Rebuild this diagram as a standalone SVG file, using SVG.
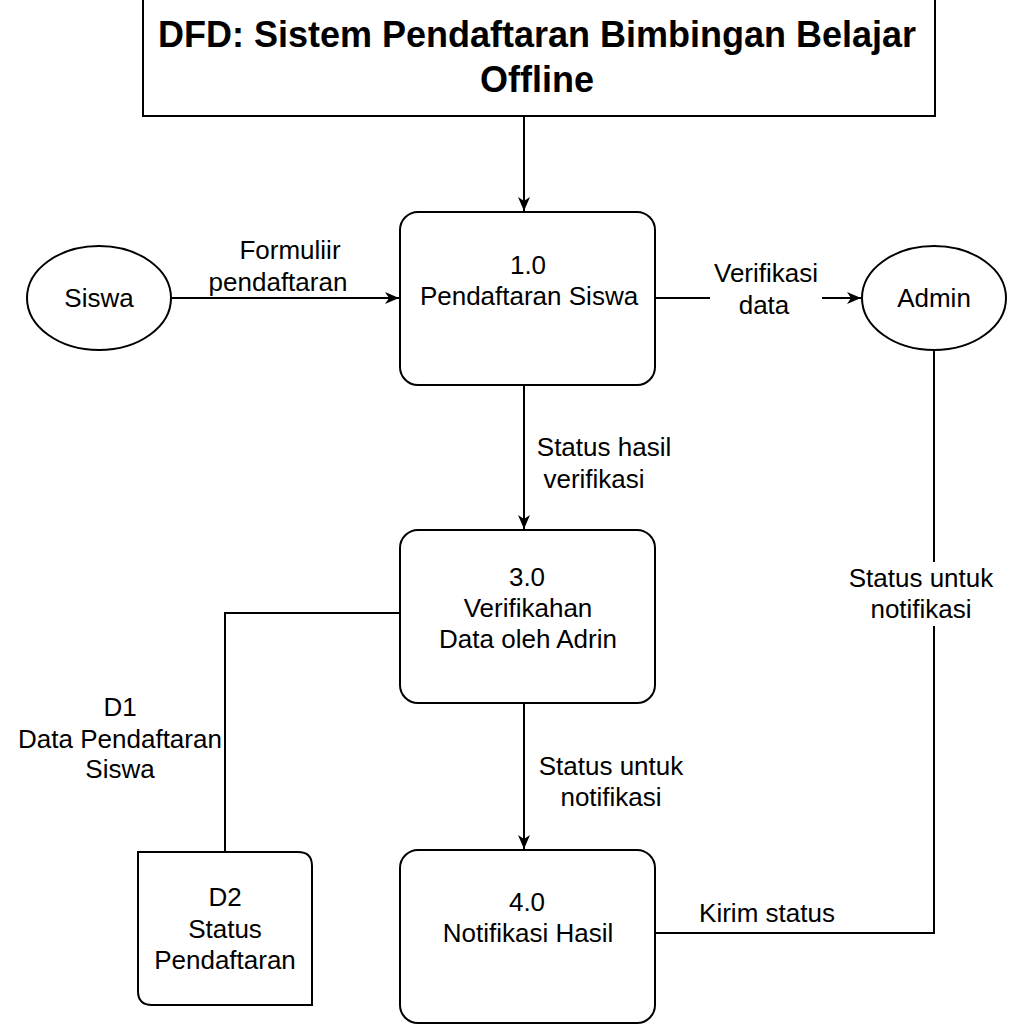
<svg xmlns="http://www.w3.org/2000/svg" width="1024" height="1024" viewBox="0 0 1024 1024">
<defs>
<style>
.s{fill:#fff;stroke:#000;stroke-width:2}
.t{font-family:"Liberation Sans",Arial,sans-serif;font-size:26px;fill:#000;text-anchor:middle}
.h{font-family:"Liberation Sans",Arial,sans-serif;font-size:36px;font-weight:bold;fill:#000;text-anchor:middle}
.c{fill:none;stroke:#000;stroke-width:2}
.bg{fill:#fff}
</style>
<marker id="ah" viewBox="0 0 14 14" refX="14" refY="7" markerWidth="14" markerHeight="14" markerUnits="userSpaceOnUse" orient="auto">
<path d="M0,1 L14,7 L0,13 L4,7 Z" fill="#000"/>
</marker>
</defs>
<rect width="1024" height="1024" fill="#fff"/>
<g id="connectors">
<line class="c" x1="524" y1="116" x2="524" y2="211" marker-end="url(#ah)"/>
<line class="c" x1="172" y1="298" x2="399" y2="298" marker-end="url(#ah)"/>
<line class="c" x1="655" y1="298" x2="861" y2="298" stroke-width="2.5" marker-end="url(#ah)"/>
<line class="c" x1="524" y1="385" x2="524" y2="529" marker-end="url(#ah)"/>
<line class="c" x1="524" y1="703" x2="524" y2="849" marker-end="url(#ah)"/>
<polyline class="c" points="400,613 225,613 225,852"/>
<polyline class="c" points="934,350 934,933 655,933"/>
<text class="t" x="290" y="259">Formuliir</text>
<text class="t" x="278" y="291">pendaftaran</text>
<rect class="bg" x="710" y="258" width="112" height="62"/>
<text class="t" x="766" y="282">Verifikasi</text>
<text class="t" x="764" y="314">data</text>
<text class="t" x="604" y="456">Status hasil</text>
<text class="t" x="594" y="488">verifikasi</text>
<text class="t" x="611" y="775">Status untuk</text>
<text class="t" x="611" y="806">notifikasi</text>
<rect class="bg" x="842" y="562" width="160" height="64"/>
<text class="t" x="921" y="587">Status untuk</text>
<text class="t" x="921" y="618">notifikasi</text>
<text class="t" x="767" y="922">Kirim status</text>
<text class="t" x="120" y="716">D1</text>
<text class="t" x="120" y="748">Data Pendaftaran</text>
<text class="t" x="120" y="778">Siswa</text>
</g>
<g id="title">
<rect class="s" x="143" y="-4" width="792" height="120"/>
<text class="h" x="537" y="47">DFD: Sistem Pendaftaran Bimbingan Belajar</text>
<text class="h" x="537" y="92">Offline</text>
</g>
<g id="siswa">
<ellipse class="s" cx="99" cy="298" rx="72" ry="52"/>
<text class="t" x="99" y="307">Siswa</text>
</g>
<g id="admin">
<ellipse class="s" cx="934" cy="298" rx="72" ry="52"/>
<text class="t" x="934" y="307">Admin</text>
</g>
<g id="p1">
<rect class="s" x="400" y="212" width="255" height="173" rx="18"/>
<text class="t" x="528" y="274">1.0</text>
<text class="t" x="529" y="305">Pendaftaran Siswa</text>
</g>
<g id="p3">
<rect class="s" x="400" y="530" width="255" height="173" rx="18"/>
<text class="t" x="527" y="586">3.0</text>
<text class="t" x="528" y="617">Verifikahan</text>
<text class="t" x="528" y="648">Data oleh Adrin</text>
</g>
<g id="p4">
<rect class="s" x="400" y="850" width="255" height="173" rx="18"/>
<text class="t" x="527" y="911">4.0</text>
<text class="t" x="528" y="942">Notifikasi Hasil</text>
</g>
<g id="d2">
<path class="s" d="M138,852 L298,852 Q312,852 312,866 L312,1005 L152,1005 Q138,1005 138,991 Z"/>
<text class="t" x="225" y="906">D2</text>
<text class="t" x="225" y="938">Status</text>
<text class="t" x="225" y="969">Pendaftaran</text>
</g>
</svg>
